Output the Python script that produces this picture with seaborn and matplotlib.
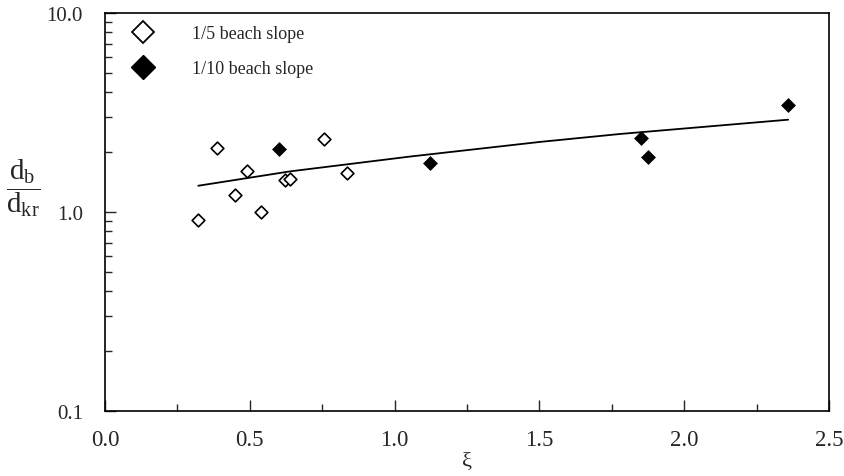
import numpy as np
import pandas as pd

import matplotlib
matplotlib.use("Agg")
import matplotlib.pyplot as plt
import seaborn as sns
from matplotlib.lines import Line2D
from matplotlib.ticker import MultipleLocator, LogLocator, NullFormatter


# 1/5 beach slope (open diamonds)
xi_steep = [0.32, 0.387, 0.449, 0.489, 0.540, 0.622, 0.640, 0.757, 0.837]
ratio_steep = [0.915, 2.09, 1.22, 1.60, 1.00, 1.45, 1.47, 2.32, 1.57]

# 1/10 beach slope (filled diamonds)
xi_mild = [0.602, 1.122, 1.850, 1.875, 2.357]
ratio_mild = [2.08, 1.76, 2.35, 1.90, 3.45]

# fitted trend line
xi_fit = [0.322, 0.639, 1.054, 1.502, 1.778, 2.359]
ratio_fit = [1.355, 1.60, 1.90, 2.25, 2.466, 2.91]

x_ticks = [0.0, 0.5, 1.0, 1.5, 2.0, 2.5]
y_ticks = [0.1, 1.0, 10.0]
y_tick_labels = ["0.1", "1.0", "10.0"]
legend_labels = ["1/5 beach slope", "1/10 beach slope"]


steep = pd.DataFrame({"xi": xi_steep, "ratio": ratio_steep})
mild = pd.DataFrame({"xi": xi_mild, "ratio": ratio_mild})
fit = pd.DataFrame({"xi": xi_fit, "ratio": ratio_fit})


sns.set_style("white")
plt.rcParams["font.family"] = ["Liberation Serif", "DejaVu Serif"]
plt.rcParams["mathtext.fontset"] = "custom"
plt.rcParams["mathtext.rm"] = "Liberation Serif"
plt.rcParams["mathtext.it"] = "Liberation Serif:italic"


fig = plt.figure(figsize=(8.45, 4.77), dpi=100)
ax = fig.add_axes([105 / 845, 1 - 412 / 477, 724 / 845, 398 / 477])


sns.lineplot(
    data=fit,
    x="xi",
    y="ratio",
    color="black",
    linewidth=1.3,
    sort=False,
    estimator=None,
    ax=ax
)

sns.scatterplot(
    data=steep,
    x="xi",
    y="ratio",
    marker="D",
    s=42,
    facecolor="white",
    edgecolor="black",
    linewidth=1.2,
    ax=ax
)

sns.scatterplot(
    data=mild,
    x="xi",
    y="ratio",
    marker="D",
    s=50,
    color="black",
    edgecolor="black",
    linewidth=0.5,
    ax=ax
)


ax.set_yscale("log")
ax.set_xlim(0, 2.5)
ax.set_ylim(0.1, 10)

ax.set_xticks(x_ticks)
ax.set_xticklabels([f"{v:.1f}" for v in x_ticks])
ax.xaxis.set_minor_locator(MultipleLocator(0.25))

ax.set_yticks(y_ticks)
ax.set_yticklabels(y_tick_labels)
ax.yaxis.set_minor_locator(LogLocator(base=10, subs=np.arange(2, 10)))
ax.yaxis.set_minor_formatter(NullFormatter())

ax.tick_params(axis="x", which="major", direction="in", length=8, width=1,
               pad=13, labelsize=16.5, bottom=True, top=False)
ax.tick_params(axis="x", which="minor", direction="in", length=5, width=1,
               bottom=True, top=False)
ax.tick_params(axis="y", which="major", direction="in", length=8, width=1,
               pad=16, labelsize=15, left=True, right=False)
ax.tick_params(axis="y", which="minor", direction="in", length=5, width=1,
               left=True, right=False)

for side in ax.spines.values():
    side.set_visible(True)
    side.set_color("black")
    side.set_linewidth(1.2)


ax.set_xlabel("ξ", fontsize=16, labelpad=1)
ax.set_ylabel(
    r"$\dfrac{\mathrm{d}_{\mathrm{b}}}{\mathrm{d}_{\mathrm{kr}}}$",
    fontsize=21,
    rotation=0
)
ax.yaxis.set_label_coords(-0.113, 0.485)


handles = [
    Line2D([], [], marker="D", linestyle="none", markersize=11,
           markerfacecolor="white", markeredgecolor="black", markeredgewidth=1.3),
    Line2D([], [], marker="D", linestyle="none", markersize=12,
           markerfacecolor="black", markeredgecolor="black")
]

ax.legend(
    handles,
    legend_labels,
    loc="upper left",
    bbox_to_anchor=(0.040, 0.969),
    frameon=False,
    fontsize=13,
    borderaxespad=0,
    borderpad=0,
    handlelength=1,
    handletextpad=2.2,
    labelspacing=1.0
)


fig.savefig("out.png", dpi=100, facecolor="white")
